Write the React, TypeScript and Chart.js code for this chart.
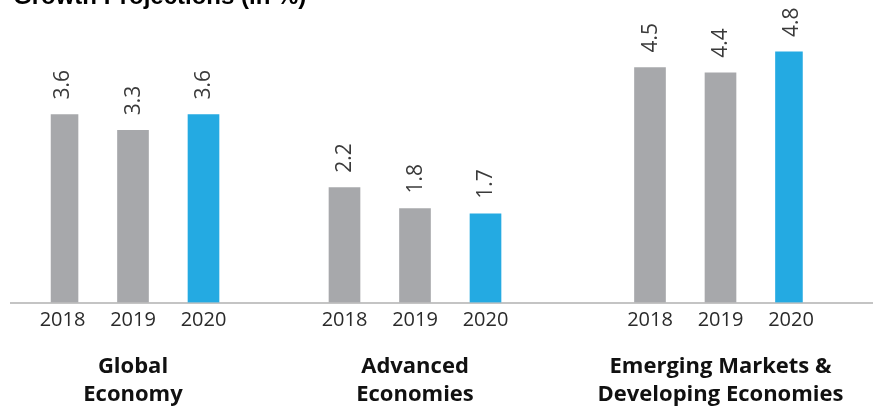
import { useEffect, useRef } from "react";
import { Chart, registerables } from "chart.js";

Chart.register(...registerables);

// ---- data ----
const titleText = "Growth Projections (in %)";
const groupNames: string[][] = [
  ["Global", "Economy"],
  ["Advanced", "Economies"],
  ["Emerging Markets &", "Developing Economies"],
];
const years = ["2018", "2019", "2020"];
const values2018 = [3.6, 2.2, 4.5];
const values2019 = [3.3, 1.8, 4.4];
const values2020 = [3.6, 1.7, 4.8];

// ---- layout / style ----
const yearColors = ["#a7a8ab", "#a7a8ab", "#24aae2"];
const SLOTS_PER_BAR = 3;
const GROUP_START = [0, 12, 25];
const TOTAL_SLOTS = 32;

function buildChartData() {
  const series = [values2018, values2019, values2020];
  const yearLabels: string[] = new Array(TOTAL_SLOTS).fill("");
  const groupLabels: (string | string[])[] = new Array(TOTAL_SLOTS).fill("");
  groupNames.forEach((g, gi) => {
    years.forEach((y, yi) => {
      yearLabels[GROUP_START[gi] + yi * SLOTS_PER_BAR] = y;
    });
    groupLabels[GROUP_START[gi] + SLOTS_PER_BAR] = g;
  });
  const datasets = years.map((y, yi) => {
    const data: (number | null)[] = new Array(TOTAL_SLOTS).fill(null);
    groupNames.forEach((_, gi) => {
      data[GROUP_START[gi] + yi * SLOTS_PER_BAR] = series[yi][gi];
    });
    return {
      label: y,
      data,
      backgroundColor: yearColors[yi],
      barThickness: 31,
      grouped: false,
    };
  });
  return { yearLabels, groupLabels, datasets };
}

const valueLabelPlugin = {
  id: "valueLabels",
  afterDatasetsDraw(chart: any) {
    const ctx = chart.ctx;
    chart.data.datasets.forEach((ds: any, di: number) => {
      const meta = chart.getDatasetMeta(di);
      meta.data.forEach((el: any, i: number) => {
        const v = ds.data[i];
        if (v == null) return;
        ctx.save();
        ctx.translate(el.x + 1, el.y - 15);
        ctx.rotate(-Math.PI / 2);
        ctx.textAlign = "left";
        ctx.textBaseline = "middle";
        ctx.font = '21px "Open Sans"';
        ctx.fillStyle = "#3a3a3a";
        ctx.fillText(v.toFixed(1), 0, 0);
        ctx.restore();
      });
    });
  },
};

const decorPlugin = {
  id: "decor",
  beforeDatasetsDraw(chart: any) {
    const ctx = chart.ctx;
    const y = chart.scales.y.getPixelForValue(0);
    ctx.save();
    ctx.strokeStyle = "#b0b0b0";
    ctx.lineWidth = 1.5;
    ctx.beginPath();
    ctx.moveTo(10, y + 0.5);
    ctx.lineTo(chart.width, y + 0.5);
    ctx.stroke();
    ctx.restore();
  },
  afterDraw(chart: any) {
    const ctx = chart.ctx;
    ctx.save();
    ctx.font = 'bold 24px "Liberation Sans"';
    ctx.fillStyle = "#000";
    ctx.textAlign = "left";
    ctx.textBaseline = "alphabetic";
    ctx.fillText(titleText, 13, 4);
    ctx.restore();
  },
};

export default function App() {
  const canvasRef = useRef<HTMLCanvasElement | null>(null);

  useEffect(() => {
    if (!canvasRef.current) return;
    const { yearLabels, groupLabels, datasets } = buildChartData();
    const chart = new Chart(canvasRef.current, {
      type: "bar",
      data: { labels: yearLabels, datasets: datasets as any },
      options: {
        animation: false,
        responsive: true,
        maintainAspectRatio: false,
        events: [],
        layout: { padding: { left: 50.75, right: 70.25, top: 15.4, bottom: 0 } },
        plugins: {
          legend: { display: false },
          tooltip: { enabled: false },
          title: { display: false },
        },
        scales: {
          x: {
            type: "category",
            position: "bottom",
            offset: true,
            weight: 0,
            grid: { display: false, drawTicks: false },
            border: { display: false },
            ticks: {
              autoSkip: false,
              maxRotation: 0,
              minRotation: 0,
              padding: 6,
              color: "#2a2a2a",
              font: { family: '"Open Sans"', size: 20 },
            },
            afterFit: (s: any) => {
              s.height = 30;
            },
          },
          x2: {
            type: "category",
            position: "bottom",
            labels: groupLabels as any,
            offset: true,
            weight: 1,
            grid: { display: false, drawTicks: false },
            border: { display: false },
            ticks: {
              autoSkip: false,
              maxRotation: 0,
              minRotation: 0,
              padding: 20,
              color: "#111",
              font: { family: '"Open Sans"', size: 22, weight: "bold", lineHeight: 28 / 22 },
            },
            afterFit: (s: any) => {
              s.height = 75.5;
            },
          },
          y: {
            display: false,
            min: 0,
            max: 5.5,
          },
        },
      } as any,
      plugins: [valueLabelPlugin, decorPlugin],
    });
    return () => chart.destroy();
  }, []);

  return (
    <div style={{ position: "fixed", left: 0, top: 0, width: 873, height: 408, background: "#fff" }}>
      <canvas ref={canvasRef} />
    </div>
  );
}
